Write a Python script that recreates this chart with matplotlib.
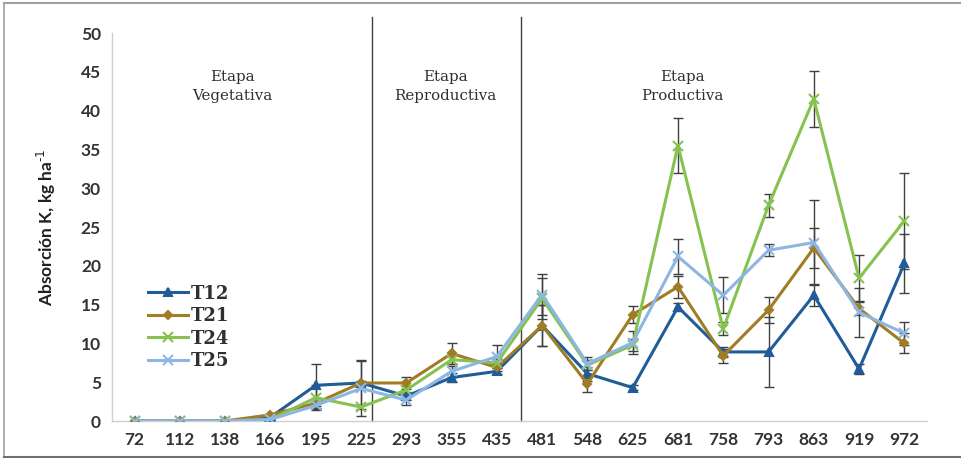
import matplotlib
matplotlib.use("Agg")
import matplotlib.pyplot as plt
from matplotlib.lines import Line2D
import numpy as np

days = ["72", "112", "138", "166", "195", "225", "293", "355", "435", "481",
        "548", "625", "681", "758", "793", "863", "919", "972"]

T12 = [0, 0, 0, 0.5, 4.6, 4.9, 3.2, 5.6, 6.4, 12.3, 6.1, 4.3, 14.7, 8.9, 8.9, 16.2, 6.7, 20.3]
T21 = [0, 0, 0, 0.8, 2.3, 4.9, 4.9, 8.7, 6.9, 12.3, 4.8, 13.7, 17.3, 8.4, 14.3, 22.3, 14.5, 10.0]
T24 = [0, 0, 0, 0.2, 3.0, 1.8, 4.0, 7.9, 7.5, 15.8, 7.2, 9.8, 35.5, 11.9, 27.8, 41.5, 18.4, 25.8]
T25 = [0, 0, 0, 0.2, 2.0, 4.2, 2.7, 6.4, 8.3, 16.3, 7.4, 10.1, 21.2, 16.2, 22.0, 23.0, 14.0, 11.3]

T12_err = [0, 0, 0, 0.1, 2.7, 0.3, 0.5, 0.6, 0.4, 2.6, 0.9, 0.3, 0.5, 0.6, 4.5, 1.4, 0.7, 3.8]
T21_err = [0, 0, 0, 0.1, 0.6, 2.9, 0.8, 1.4, 0.5, 2.6, 1.0, 1.1, 1.4, 0.9, 1.7, 2.6, 0.8, 1.3]
T24_err = [0, 0, 0, 0.1, 1.6, 0.3, 0.5, 0.6, 0.5, 2.6, 0.6, 0.8, 3.5, 0.8, 1.5, 3.6, 3.0, 6.2]
T25_err = [0, 0, 0, 0.1, 0.5, 3.5, 0.6, 0.7, 1.5, 2.7, 0.8, 1.5, 2.2, 2.3, 0.8, 5.5, 3.2, 1.5]

series_names = ["T12", "T21", "T24", "T25"]
series_vals = [T12, T21, T24, T25]
series_errs = [T12_err, T21_err, T24_err, T25_err]
colors = ["#1F5C99", "#A07D24", "#86C24F", "#8DB6E3"]
markers = ["^", "D", "x", "x"]
msizes = [6, 4.5, 7, 7]

stage_labels = ["Etapa\nVegetativa", "Etapa\nReproductiva", "Etapa\nProductiva"]
stage_xpos = [2.15, 6.87, 12.1]
stage_bounds = [5.24, 8.53]

fig = plt.figure(figsize=(9.61, 4.68), dpi=100)
ax = fig.add_axes([112/961, 47/468, 815/961, 388/468])

x = np.arange(len(days))
for name, vals, errs, c, m, ms in zip(series_names, series_vals, series_errs,
                                      colors, markers, msizes):
    ax.errorbar(x, vals, yerr=errs, fmt="none", ecolor="#404040",
                elinewidth=1.0, capsize=3.5, capthick=1.0, zorder=2)
    ax.plot(x, vals, color=c, lw=2.2, marker=m, markersize=ms,
            markeredgewidth=1.5, label=name, zorder=3)

ax.set_xlim(-0.5, len(days) - 0.5)
ax.set_ylim(0, 50)
ax.set_yticks(np.arange(0, 51, 5))
ax.set_xticks(x)
ax.set_xticklabels(days)
ax.tick_params(length=0, labelsize=12.5, labelcolor="#333333", pad=8)
for lab in ax.get_xticklabels() + ax.get_yticklabels():
    lab.set_fontfamily("Lato")
    lab.set_fontweight("bold")

for s in ["top", "right"]:
    ax.spines[s].set_visible(False)
for s in ["left", "bottom"]:
    ax.spines[s].set_color("#D0D0D0")
    ax.spines[s].set_linewidth(1.0)

ax.set_ylabel("Absorción K, kg ha$^{\\text{-1}}$", fontfamily="Lato",
              fontweight="bold", fontsize=12.5, color="#202020", labelpad=16)

for xb in stage_bounds:
    ax.plot([xb, xb], [0, 52.0], color="#404040", lw=1.0, clip_on=False, zorder=1)

for lbl, xp in zip(stage_labels, stage_xpos):
    ax.text(xp, 43.1, lbl, ha="center", va="center", fontfamily="DejaVu Serif",
            fontsize=10.8, color="#303030", linespacing=1.5)

leg = ax.legend(loc="center left", bbox_to_anchor=(0.044, 0.241), frameon=False,
                handlelength=2.2, handletextpad=0.15, labelspacing=0.25,
                borderpad=0, borderaxespad=0,
                prop={"family": "DejaVu Serif", "weight": "bold", "size": 13})
for t in leg.get_texts():
    t.set_color("#303030")

# page frame (top, left, bottom)
H = 468.0
W = 961.0
fig.lines.append(Line2D([4/W, 1.0], [1 - 3/H, 1 - 3/H], transform=fig.transFigure,
                        color="#A0A0A0", lw=1.5))
fig.lines.append(Line2D([4/W, 4/W], [1 - 3/H, 1 - 457/H], transform=fig.transFigure,
                        color="#A0A0A0", lw=1.2))
fig.lines.append(Line2D([4/W, 1.0], [1 - 457/H, 1 - 457/H], transform=fig.transFigure,
                        color="#707070", lw=1.5))

fig.savefig("out.png", dpi=100)
